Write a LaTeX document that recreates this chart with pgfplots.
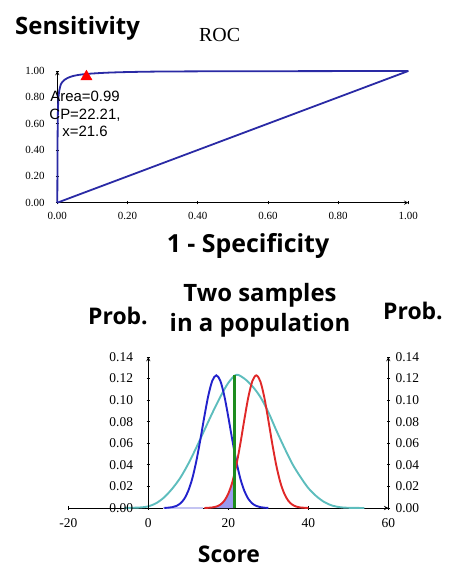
\documentclass[border=0pt]{standalone}
\usepackage{fontspec}
\setmainfont{Liberation Serif}
\newfontfamily\osans{Open Sans}
\newfontfamily\arialf{Liberation Sans}
\usepackage{pgfplots}
\pgfplotsset{compat=1.18}

\definecolor{rocblue}{HTML}{2A2AA5}
\definecolor{bblue}{HTML}{2222CC}
\definecolor{rred}{HTML}{E02828}
\definecolor{tcyan}{HTML}{5DBDBD}
\definecolor{tgreen}{HTML}{1E8C1E}
\definecolor{tfill}{HTML}{9A9AEE}
\definecolor{tlav}{HTML}{C4C4F2}

\pgfplotsset{
  panel/.style={
    scale only axis, anchor=south west,
    axis line style={-, line width=0.9bp},
    tick style={black, line width=0.8bp},
    tick align=inside, major tick length=3.5bp,
    /pgf/number format/.cd, fixed, fixed zerofill, precision=2,
    assume math mode=true, /pgfplots/.cd,
  },
}

\begin{document}
\begin{tikzpicture}
\path[use as bounding box] (0bp,0bp) rectangle (450bp,567bp);

% ROC panel
\begin{axis}[panel, at={(57.3bp,364.3bp)}, width=351bp, height=131.7bp,
    xmin=0, xmax=1, ymin=0, ymax=1,
    axis x line=bottom, axis y line=left,
    xtick={0,0.2,0.4,0.6,0.8,1}, ytick={0,0.2,0.4,0.6,0.8,1},
    ticklabel style={font=\fontsize{11}{11}\selectfont},
    xticklabel style={yshift=-4.5bp},
    yticklabel style={xshift=-7.5bp},
    clip=false]
  \addplot[rocblue, line width=1.8bp] coordinates {(0,0) (1,1)};
  \addplot[rocblue, line width=1.8bp, smooth] coordinates {
    (0,0) (0.0005,0.30) (0.001,0.55) (0.002,0.72) (0.004,0.82)
    (0.008,0.88) (0.0125,0.91) (0.02,0.932) (0.03,0.948) (0.045,0.962)
    (0.065,0.972) (0.09,0.979) (0.14,0.987) (0.2,0.992) (0.3,0.996)
    (0.5,0.998) (1,1)};
  \addplot[only marks, mark=triangle*, mark size=6.5bp, color=red]
    coordinates {(0.083,0.957)};
\end{axis}

\node[anchor=base west, inner sep=0, font=\osans\bfseries\fontsize{24}{24}\selectfont] at (15bp,532bp) {Sensitivity};
\node[anchor=base west, inner sep=0, font=\fontsize{20}{20}\selectfont] at (199bp,525bp) {ROC};
\node[anchor=base, inner sep=0, font=\osans\bfseries\fontsize{25}{25}\selectfont] at (248bp,314bp) {1 - Specificity};
\node[anchor=north, inner sep=0, align=center, font=\arialf\fontsize{15}{17.5}\selectfont] at (85bp,476bp) {Area=0.99\\CP=22.21,\\x=21.6};

% distributions panel
\begin{axis}[panel, at={(68.3bp,59bp)}, width=320bp, height=151bp,
    xmin=-20, xmax=60, ymin=0, ymax=0.14,
    axis x line=bottom, axis y line=right,
    xtick={-20,0,20,40,60}, ytick={0,0.02,0.04,0.06,0.08,0.10,0.12,0.14},
    ticklabel style={font=\fontsize{13.5}{13.5}\selectfont},
    xticklabel style={yshift=-5bp, /pgf/number format/precision=0, /pgf/number format/fixed zerofill=false},
    yticklabel style={xshift=2bp},
    clip=false]
  \addplot[draw=none, fill=tfill] coordinates {
    (14,0) (15,0.0002) (16,0.0005) (17,0.0013) (18,0.0031) (19,0.0067)
    (20,0.0133) (21,0.0239) (21.6,0.0327) (21.6,0)} -- cycle;
  \addplot[tlav, line width=2bp] coordinates {(3.8,0) (13.6,0)};
  \addplot[tcyan, line width=1.9bp, smooth] coordinates {
    (-6,0) (-2,0.0005) (0,0.0015) (2,0.0045) (4,0.0100) (6,0.0180)
    (8,0.0280) (10,0.0410) (12,0.0560) (14,0.0720) (16,0.0880)
    (18,0.1030) (20,0.1160) (22,0.1235) (24,0.1200) (26,0.1130)
    (28,0.1030) (30,0.0890) (32,0.0720) (34,0.0560) (36,0.0410)
    (38,0.0290) (40,0.0185) (42,0.0110) (44,0.0055) (46,0.0022)
    (48,0.0007) (50,0.0002) (54,0)};
  \addplot[bblue, line width=1.9bp, smooth] coordinates {
    (4,0.0001) (5,0.0003) (6,0.0008) (7,0.0019) (8,0.0042) (9,0.0085)
    (10,0.0160) (11,0.0274) (12,0.0434) (13,0.0631) (14,0.0845)
    (15,0.1041) (16,0.1180) (17,0.1230) (18,0.1180) (19,0.1041)
    (20,0.0845) (21,0.0631) (22,0.0434) (23,0.0274) (24,0.0160)
    (25,0.0085) (26,0.0042) (27,0.0019) (28,0.0008) (29,0.0003) (30,0.0001)};
  \addplot[rred, line width=1.9bp, smooth] coordinates {
    (14,0) (15,0.0002) (16,0.0005) (17,0.0013) (18,0.0031) (19,0.0067)
    (20,0.0133) (21,0.0239) (22,0.0395) (23,0.0594) (24,0.0817)
    (25,0.1026) (26,0.1175) (27,0.1230) (28,0.1175) (29,0.1026)
    (30,0.0817) (31,0.0594) (32,0.0395) (33,0.0239) (34,0.0133)
    (35,0.0067) (36,0.0031) (37,0.0013) (38,0.0005) (39,0.0002) (40,0)};
  \addplot[tgreen, line width=3.5bp] coordinates {(21.6,0) (21.6,0.1235)};
\end{axis}

\begin{axis}[panel, at={(148.3bp,59bp)}, width=240bp, height=151bp,
    xmin=0, xmax=60, ymin=0, ymax=0.14,
    axis x line=none, axis y line=left,
    ytick={0,0.02,0.04,0.06,0.08,0.10,0.12,0.14},
    ticklabel style={font=\fontsize{13.5}{13.5}\selectfont},
    yticklabel style={xshift=-10bp}]
\end{axis}

\node[anchor=base west, inner sep=0, font=\osans\bfseries\fontsize{23}{23}\selectfont] at (88bp,242bp) {Prob.};
\node[anchor=base west, inner sep=0, font=\osans\bfseries\fontsize{23}{23}\selectfont] at (383bp,247bp) {Prob.};
\node[anchor=base, inner sep=0, font=\osans\bfseries\fontsize{24}{24}\selectfont] at (260bp,265.3bp) {Two samples};
\node[anchor=base, inner sep=0, font=\osans\bfseries\fontsize{24}{24}\selectfont] at (260bp,235.3bp) {in a population};
\node[anchor=base, inner sep=0, font=\osans\bfseries\fontsize{23}{23}\selectfont] at (229bp,5bp) {Score};
\end{tikzpicture}
\end{document}
